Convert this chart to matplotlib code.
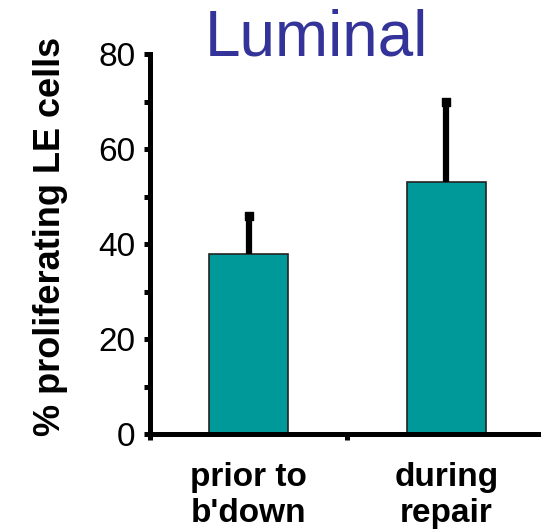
import numpy as np
import matplotlib
matplotlib.use("Agg")
import matplotlib.pyplot as plt
from matplotlib.ticker import MultipleLocator

plt.rcParams['font.family'] = ['Liberation Sans', 'DejaVu Sans']

groups = ["prior to\nb'down", "during\nrepair"]
pct_prolif = [38, 53]
err_up = [8, 17]

bar_col = '#009999'

fig = plt.figure(figsize=(5.41, 5.32), dpi=100)
ax = fig.add_axes([150/541, 1 - 434/532, 390/541, 380/532])

x = np.arange(len(groups))
tops = np.array(pct_prolif) + np.array(err_up)
ax.bar(x, pct_prolif, width=0.4, color=bar_col, edgecolor='#222222', linewidth=1.2, zorder=2)
# upper error only, no cap at the bar top
ax.errorbar(x, pct_prolif, yerr=[np.zeros(len(err_up)), err_up], fmt='none',
            ecolor='black', elinewidth=4.5, capsize=0, zorder=3)
ax.scatter(x, tops, marker='s', s=30, color='black', zorder=4, clip_on=False)

ax.set_xlim(-0.5, 1.475)
ax.set_ylim(0, 80)
ax.yaxis.set_major_locator(MultipleLocator(20))
ax.yaxis.set_minor_locator(MultipleLocator(10))
ax.set_xticks([-0.5, 0.5])
ax.set_xticklabels([])
ax.set_xticks(x, minor=True)
ax.set_xticklabels(groups, minor=True, fontsize=24, fontweight='bold')

for s in ['top', 'right']:
    ax.spines[s].set_visible(False)
for s in ['left', 'bottom']:
    ax.spines[s].set_linewidth(3.6)

ax.tick_params(axis='y', which='both', direction='out', length=4.5, width=3.6)
ax.tick_params(axis='y', which='major', labelsize=24, pad=6)
ax.tick_params(axis='x', which='major', direction='out', length=4.5, width=3.6)
ax.tick_params(axis='x', which='minor', length=0, pad=20)

ax.set_ylabel('% proliferating LE cells', fontsize=26, fontweight='bold')
ax.yaxis.set_label_coords(-0.21, 0.52)

fig.text(316/541, 1 - 55/532, 'Luminal', ha='center', va='baseline',
         fontsize=46, color='#333399')

plt.savefig('out.png', dpi=100)
